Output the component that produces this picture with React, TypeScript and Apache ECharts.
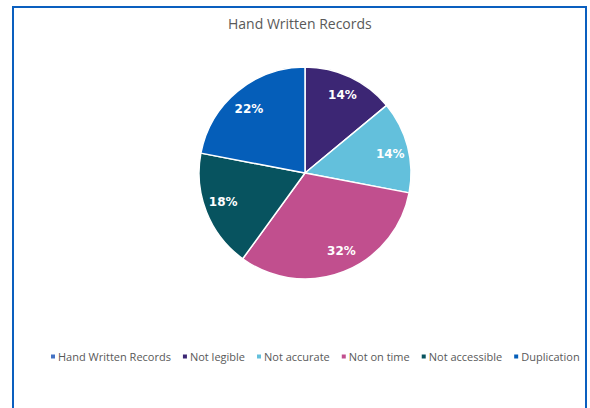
import React, { useEffect, useRef } from "react";
import * as echarts from "echarts";

const title = "Hand Written Records";
const categories = ["Hand Written Records", "Not legible", "Not accurate", "Not on time", "Not accessible", "Duplication"];
const values = [0, 14, 14, 32, 18, 22];
const colors = ["#4472C4", "#3C2674", "#63C0DC", "#C14F8E", "#07535F", "#055EB9"];

// small label nudges to mimic the original chart's label placement
const labelNudges = [[0, 0], [0, 2], [0, 3], [4, -4], [0, -3], [0, 4]];

export default function App() {
  const ref = useRef<HTMLDivElement>(null);
  useEffect(() => {
    if (!ref.current) return;
    const chart = echarts.init(ref.current, null, { renderer: "svg" });
    const data = categories.map((c, i) => ({ name: c, value: values[i], itemStyle: { color: colors[i] } }));
    const font = "Open Sans";
    chart.setOption({
      animation: false,
      backgroundColor: "#fff",
      title: {
        text: title,
        left: 223,
        top: 11,
        textStyle: { fontFamily: font, fontSize: 14, fontWeight: "normal", color: "#595959" },
      },
      legend: {
        data: categories,
        top: 346,
        left: 44,
        width: 560,
        icon: "rect",
        itemWidth: 6,
        itemHeight: 6,
        itemGap: 10,
        textStyle: { fontFamily: font, fontSize: 11, color: "#595959", padding: [0, 0, 0, -3] },
      },
      graphic: [
        {
          type: "rect",
          shape: { x: 13, y: 7, width: 573, height: 420 },
          style: { fill: "none", stroke: "#0A5FBF", lineWidth: 2 },
          silent: true,
        },
      ],
      series: [
        {
          type: "pie",
          center: [305, 173],
          radius: [0, 106],
          startAngle: 90,
          clockwise: true,
          data,
          label: { show: false },
          labelLine: { show: false },
          itemStyle: { borderColor: "#fff", borderWidth: 1.5 },
          emphasis: { disabled: true },
        },
        {
          type: "pie",
          center: [305, 173],
          radius: [64, 106],
          startAngle: 90,
          clockwise: true,
          silent: true,
          data: categories.map((c, i) => ({
            name: c + " ",
            value: values[i],
            label: { offset: labelNudges[i] },
          })),
          itemStyle: { color: "rgba(0,0,0,0)" },
          label: {
            show: true,
            position: "inside",
            formatter: (p: any) => (p.value > 0 ? Math.round(p.percent) + "%" : ""),
            color: "#fff",
            fontFamily: "DejaVu Sans",
            fontWeight: "bold",
            fontSize: 12,
          },
          labelLine: { show: false },
          emphasis: { disabled: true },
        },
      ],
    });
    return () => chart.dispose();
  }, []);
  return <div ref={ref} style={{ width: 590, height: 408, position: "absolute", left: 0, top: 0 }} />;
}
